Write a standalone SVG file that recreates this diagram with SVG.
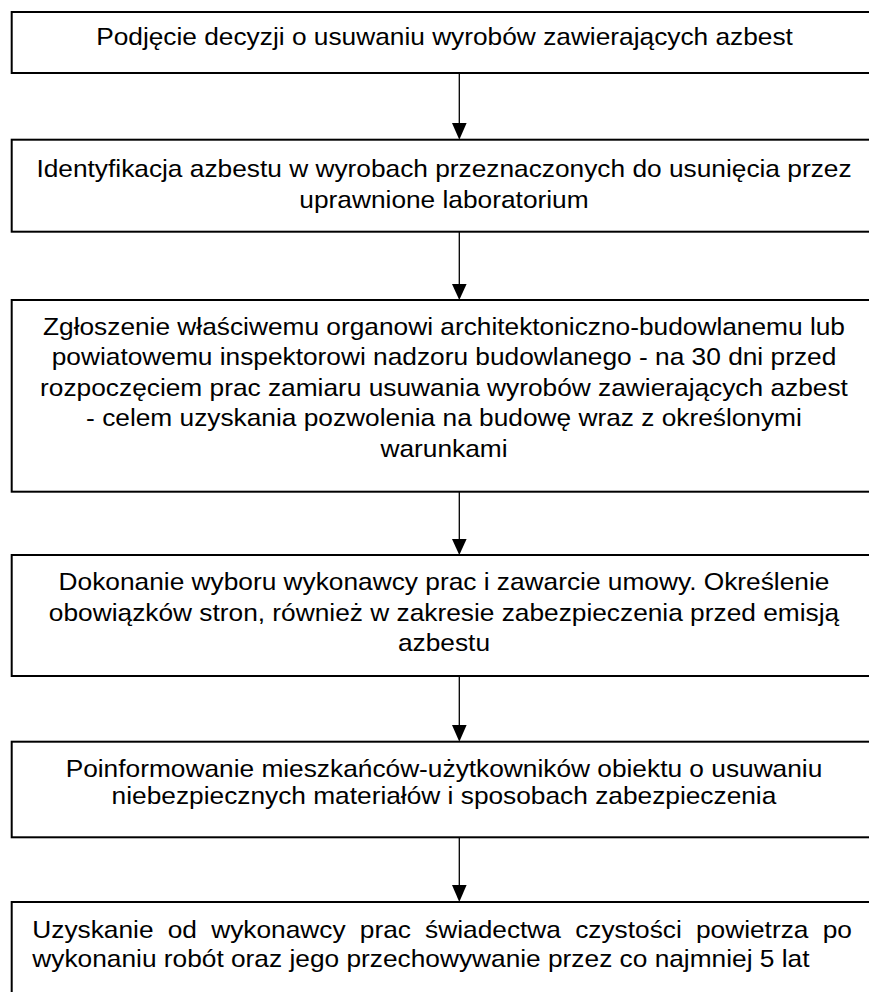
<svg xmlns="http://www.w3.org/2000/svg" width="869" height="992" viewBox="0 0 869 992">
<style>
.box{fill:#fff;stroke:#000;stroke-width:2}
.t{font-family:"Liberation Sans",Arial,sans-serif;font-size:24px;fill:#000;text-anchor:middle}
.l{text-anchor:start}
.c{stroke:#000;stroke-width:1.3;fill:none}
.h{fill:#000}
</style>
<rect width="869" height="992" fill="#fff"/>
<g id="n1">
<rect class="box" x="11.7" y="12" width="870" height="61"/>
<text class="t" transform="scale(1.096,1)" x="405.6" y="45">Podjęcie decyzji o usuwaniu wyrobów zawierających azbest</text>
</g>
<g id="n2">
<rect class="box" x="11.7" y="139.7" width="870" height="92"/>
<text class="t" transform="scale(1.096,1)" x="405.1" y="177">Identyfikacja azbestu w wyrobach przeznaczonych do usunięcia przez</text>
<text class="t" transform="scale(1.096,1)" x="405.1" y="208">uprawnione laboratorium</text>
</g>
<g id="n3">
<rect class="box" x="11.7" y="300" width="870" height="191.7"/>
<text class="t" transform="scale(1.096,1)" x="405.1" y="335">Zgłoszenie właściwemu organowi architektoniczno-budowlanemu lub</text>
<text class="t" transform="scale(1.096,1)" x="405.1" y="365.5">powiatowemu inspektorowi nadzoru budowlanego - na 30 dni przed</text>
<text class="t" transform="scale(1.096,1)" x="405.1" y="396">rozpoczęciem prac zamiaru usuwania wyrobów zawierających azbest</text>
<text class="t" transform="scale(1.096,1)" x="405.1" y="426.5">- celem uzyskania pozwolenia na budowę wraz z określonymi</text>
<text class="t" transform="scale(1.096,1)" x="405.1" y="457">warunkami</text>
</g>
<g id="n4">
<rect class="box" x="11.7" y="555" width="870" height="121"/>
<text class="t" transform="scale(1.096,1)" x="405.1" y="590">Dokonanie wyboru wykonawcy prac i zawarcie umowy. Określenie</text>
<text class="t" transform="scale(1.096,1)" x="405.1" y="620.7">obowiązków stron, również w zakresie zabezpieczenia przed emisją</text>
<text class="t" transform="scale(1.096,1)" x="405.1" y="651">azbestu</text>
</g>
<g id="n5">
<rect class="box" x="11.7" y="741.7" width="870" height="95.6"/>
<text class="t" transform="scale(1.096,1)" x="405.1" y="776.7">Poinformowanie mieszkańców-użytkowników obiektu o usuwaniu</text>
<text class="t" transform="scale(1.096,1)" x="405.1" y="804">niebezpiecznych materiałów i sposobach zabezpieczenia</text>
</g>
<g id="n6">
<rect class="box" x="11.7" y="902" width="870" height="120"/>
<text class="t l" transform="scale(1.096,1)" x="29.5" y="938" word-spacing="6.3">Uzyskanie od wykonawcy prac świadectwa czystości powietrza po</text>
<text class="t l" transform="scale(1.096,1)" x="29.5" y="966.7">wykonaniu robót oraz jego przechowywanie przez co najmniej 5 lat</text>
</g>
<g id="connectors">
<line class="c" x1="459.3" y1="73" x2="459.3" y2="124"/>
<polygon class="h" points="452,123 466.6,123 459.3,139.7"/>
<line class="c" x1="459.3" y1="231.7" x2="459.3" y2="285"/>
<polygon class="h" points="452,284 466.6,284 459.3,300"/>
<line class="c" x1="459.3" y1="491.7" x2="459.3" y2="540"/>
<polygon class="h" points="452,539 466.6,539 459.3,555"/>
<line class="c" x1="459.3" y1="676" x2="459.3" y2="726"/>
<polygon class="h" points="452,725 466.6,725 459.3,741.7"/>
<line class="c" x1="459.3" y1="837.3" x2="459.3" y2="886"/>
<polygon class="h" points="452,885 466.6,885 459.3,902"/>
</g>
</svg>
